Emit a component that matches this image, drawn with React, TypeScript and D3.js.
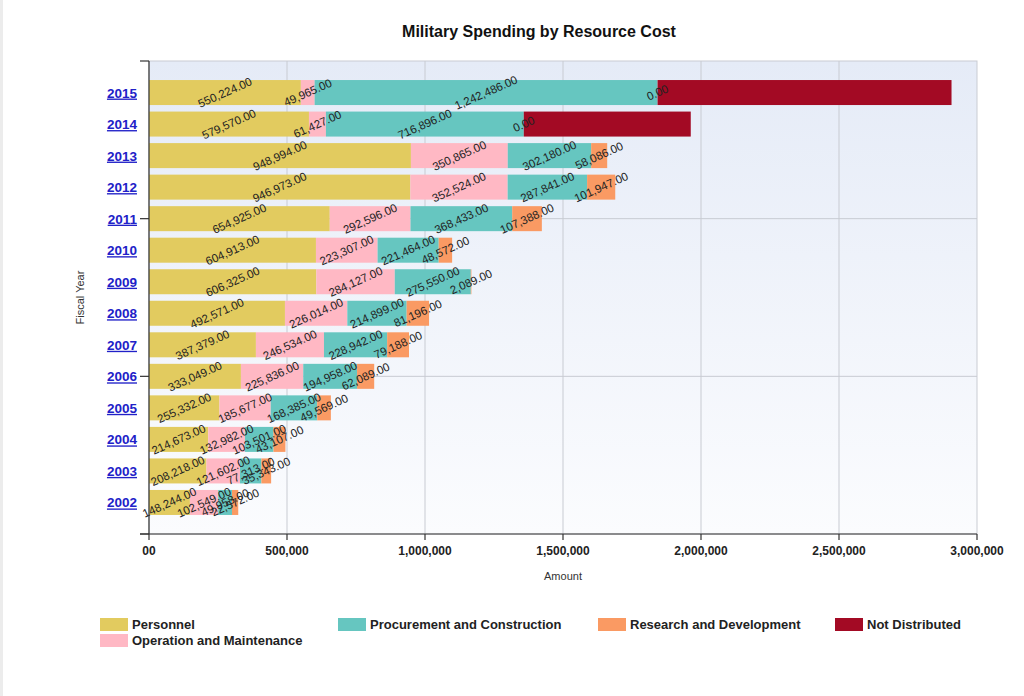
import React from "react";
import * as d3 from "d3";

const years = [2015, 2014, 2013, 2012, 2011, 2010, 2009, 2008, 2007, 2006, 2005, 2004, 2003, 2002];
const personnel = [550224, 579570, 948994, 946973, 654925, 604913, 606325, 492571, 387379, 333049, 255332, 214673, 208218, 148244];
const operation = [49965, 61427, 350865, 352524, 292596, 223307, 284127, 226014, 246534, 225836, 185677, 132982, 121602, 102549];
const procurement = [1242486, 716896, 302180, 287841, 368433, 221464, 275550, 214899, 228942, 194958, 168385, 103501, 77313, 49958];
const research = [0, 0, 58086, 101947, 107388, 48572, 2089, 81196, 79188, 62089, 49569, 43107, 35343, 22572];
const notDistributed = [1065000, 605000, 0, 0, 0, 0, 0, 0, 0, 0, 0, 0, 0, 0];

const seriesNames = ["Personnel", "Operation and Maintenance", "Procurement and Construction", "Research and Development", "Not Distributed"];
const seriesColors = ["#e2cb5f", "#ffb8c4", "#66c6c0", "#fa9a63", "#a30a24"];
const seriesLabelled = [true, true, true, true, false];
const xTicks = [0, 500000, 1000000, 1500000, 2000000, 2500000, 3000000];
const yTicks = [2001, 2006, 2011, 2016];

export default function App() {
  const W = 1024, H = 696;
  const left = 149, right = 977, top = 61, bottom = 534;
  const x = d3.scaleLinear().domain([0, 3000000]).range([left, right]);
  const y = d3.scaleLinear().domain([2001, 2016]).range([bottom, top]);
  const barH = 25;
  const values = [personnel, operation, procurement, research, notDistributed];
  const table = years.map((yr, i) => {
    const o: any = { year: yr };
    seriesNames.forEach((s, k) => (o[s] = values[k][i]));
    return o;
  });
  const stacked = d3.stack<any>().keys(seriesNames)(table);
  const fmtLabel = (v: number) => d3.format(",.2f")(v);
  const fmtTick = (v: number) => (v === 0 ? "00" : d3.format(",")(v));
  const font = "Arial, 'Liberation Sans', sans-serif";

  const legend = [
    { k: 0, x: 100, y: 618 },
    { k: 2, x: 338, y: 618 },
    { k: 3, x: 598, y: 618 },
    { k: 4, x: 835, y: 618 },
    { k: 1, x: 100, y: 634 },
  ];

  return (
    <svg width={W} height={H} style={{ position: "absolute", left: 0, top: 0, background: "#fff" }} fontFamily={font}>
      <defs>
        <linearGradient id="bg" x1="0" y1="0" x2="0" y2="1">
          <stop offset="0" stopColor="#e5ebf7" />
          <stop offset="1" stopColor="#fbfcfe" />
        </linearGradient>
      </defs>
      <rect x={0} y={0} width={3} height={H} fill="#ececec" />
      <text x={539} y={37} textAnchor="middle" fontSize={16} fontWeight="bold" fill="#111">
        Military Spending by Resource Cost
      </text>
      <rect x={left} y={top} width={right - left} height={bottom - top} fill="url(#bg)" stroke="#c9ccd3" strokeWidth={1} />
      {xTicks.slice(1, -1).map((t) => (
        <line key={"gx" + t} x1={x(t)} x2={x(t)} y1={top} y2={bottom} stroke="#c8cbd2" strokeWidth={1} />
      ))}
      {yTicks.slice(1, -1).map((t) => (
        <line key={"gy" + t} x1={left} x2={right} y1={y(t)} y2={y(t)} stroke="#c8cbd2" strokeWidth={1} />
      ))}
      {stacked.map((s, k) => (
        <g key={"s" + k} fill={seriesColors[k]}>
          {s.map((d: any, i: number) =>
            d[1] - d[0] > 0 ? (
              <rect key={i} x={x(d[0])} y={y(d.data.year) - barH / 2} width={x(d[1]) - x(d[0])} height={barH} />
            ) : null
          )}
        </g>
      ))}
      {stacked.map((s, k) =>
        seriesLabelled[k] ? (
          <g key={"l" + k}>
            {s.map((d: any, i: number) => {
              const cx = (x(d[0]) + x(d[1])) / 2;
              const cy = y(d.data.year);
              return (
                <text key={i} transform={`translate(${cx},${cy}) rotate(-24)`} textAnchor="middle" dy="0.35em" fontSize={11.5} fill="#222">
                  {fmtLabel(d[1] - d[0])}
                </text>
              );
            })}
          </g>
        ) : null
      )}
      <line x1={left} x2={left} y1={top} y2={bottom} stroke="#333" strokeWidth={1.2} />
      <line x1={left - 9} x2={right} y1={bottom} y2={bottom} stroke="#333" strokeWidth={1.2} />
      {yTicks.map((t) => (
        <line key={"ty" + t} x1={left - 9} x2={left} y1={y(t)} y2={y(t)} stroke="#333" strokeWidth={1.2} />
      ))}
      {xTicks.map((t) => (
        <g key={"tx" + t}>
          <line x1={x(t)} x2={x(t)} y1={bottom} y2={bottom + 6} stroke="#333" strokeWidth={1.2} />
          <text x={x(t)} y={bottom + 21} textAnchor="middle" fontSize={12} fontWeight="bold" fill="#222">
            {fmtTick(t)}
          </text>
        </g>
      ))}
      {years.map((yr) => (
        <text key={"yl" + yr} x={137} y={y(yr) + 5} textAnchor="end" fontSize={13.5} fontWeight="bold" fill="#2121c8" textDecoration="underline">
          {yr}
        </text>
      ))}
      <text x={563} y={580} textAnchor="middle" fontSize={11} fill="#333">Amount</text>
      <text transform={`translate(84,${(top + bottom) / 2}) rotate(-90)`} textAnchor="middle" fontSize={11} fill="#333">
        Fiscal Year
      </text>
      {legend.map((l) => (
        <g key={"lg" + l.k}>
          <rect x={l.x} y={l.y} width={28} height={13} fill={seriesColors[l.k]} />
          <text x={l.x + 32} y={l.y + 11} fontSize={13} fontWeight="bold" fill="#222">
            {seriesNames[l.k]}
          </text>
        </g>
      ))}
    </svg>
  );
}
